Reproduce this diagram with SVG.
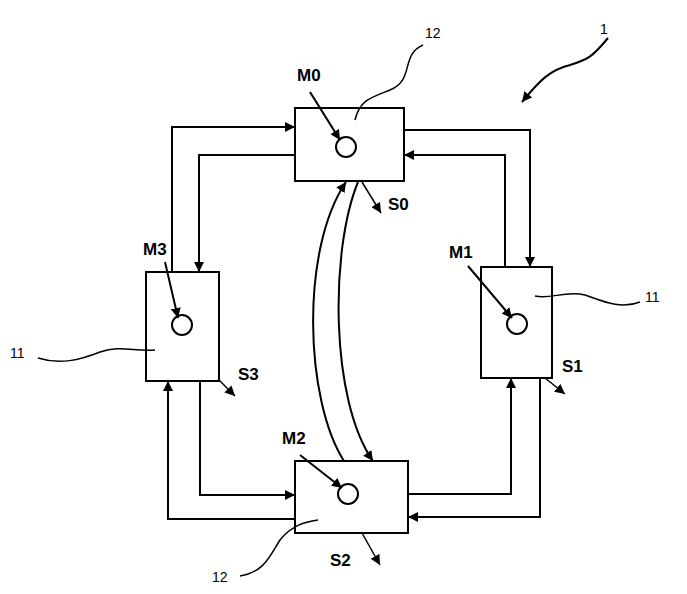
<svg xmlns="http://www.w3.org/2000/svg" width="687" height="594" viewBox="0 0 687 594">
<defs>
<marker id="a" viewBox="0 0 10 10" refX="10" refY="5" markerWidth="10" markerHeight="10" orient="auto" markerUnits="userSpaceOnUse"><path d="M0,0 L10,5 L0,10 z" fill="#000"/></marker>
</defs>
<style>
.b{fill:#fff;stroke:#000;stroke-width:2}
.c{fill:#fff;stroke:#000;stroke-width:2}
.l{fill:none;stroke:#000;stroke-width:2}
.t{font-family:"Liberation Sans",Arial,sans-serif;font-weight:bold;font-size:17px}
.n{font-family:"Liberation Sans",Arial,sans-serif;font-size:14px}
</style>
<rect width="687" height="594" fill="#fff"/>
<g id="M0"><rect class="b" x="295" y="108" width="109" height="73"/><circle class="c" cx="346" cy="147" r="10"/><text class="t" x="297" y="81">M0</text><text class="n" x="425" y="38">12</text><text class="t" x="388" y="210">S0</text></g>
<g id="M1"><rect class="b" x="481" y="267" width="71" height="111"/><circle class="c" cx="517" cy="324" r="10"/><text class="t" x="449" y="258">M1</text><text class="n" x="645" y="302">11</text><text class="t" x="562" y="372">S1</text></g>
<g id="M3"><rect class="b" x="146" y="272" width="73" height="109"/><circle class="c" cx="182" cy="325" r="10"/><text class="t" x="143" y="255">M3</text><text class="n" x="10" y="358">11</text><text class="t" x="238" y="380">S3</text></g>
<g id="M2"><rect class="b" x="295" y="461" width="113" height="72"/><circle class="c" cx="348" cy="494" r="10"/><text class="t" x="282" y="444">M2</text><text class="n" x="212" y="582">12</text><text class="t" x="330" y="566">S2</text></g>
<g id="ref"><text class="n" x="600" y="34">1</text></g>
<g id="connectors" class="l">
<path d="M172,272 V127 H295" marker-end="url(#a)"/>
<path d="M295,155 H199 V272" marker-end="url(#a)"/>
<path d="M404,130 H530 V267" marker-end="url(#a)"/>
<path d="M505,267 V155 H404" marker-end="url(#a)"/>
<path d="M408,494 H511 V378" marker-end="url(#a)"/>
<path d="M540,378 V517 H408" marker-end="url(#a)"/>
<path d="M200,381 V495 H295" marker-end="url(#a)"/>
<path d="M295,519 H168 V381" marker-end="url(#a)"/>
<path d="M344,461 C305,400 300,250 346,182" marker-end="url(#a)"/>
<path d="M358,182 C330,250 330,400 373,461" marker-end="url(#a)"/>
<path d="M310,92 L340,140" marker-end="url(#a)"/>
<path d="M468,266 L512,318" marker-end="url(#a)"/>
<path d="M165,262 L178,318" marker-end="url(#a)"/>
<path d="M300,455 L342,488" marker-end="url(#a)"/>
<path d="M362,182 L381,213" marker-end="url(#a)" stroke-width="1.5"/>
<path d="M545,378 L565,394" marker-end="url(#a)" stroke-width="1.5"/>
<path d="M218,379 L235,396" marker-end="url(#a)" stroke-width="1.5"/>
<path d="M362,533 L380,565" marker-end="url(#a)" stroke-width="1.5"/>
<path d="M423,45 C400,55 415,80 390,90 C370,98 360,100 355,120" stroke-width="1.5"/>
<path d="M640,302 C620,310 600,300 585,295 C565,290 550,300 535,296" stroke-width="1.5"/>
<path d="M38,358 C60,365 80,360 100,352 C120,345 135,352 155,350" stroke-width="1.5"/>
<path d="M240,576 C265,572 270,555 280,540 C292,525 305,522 318,520" stroke-width="1.5"/>
<path d="M608,38 C590,60 585,60 570,65 C550,70 540,80 522,102" marker-end="url(#a)"/>
</g>
</svg>
